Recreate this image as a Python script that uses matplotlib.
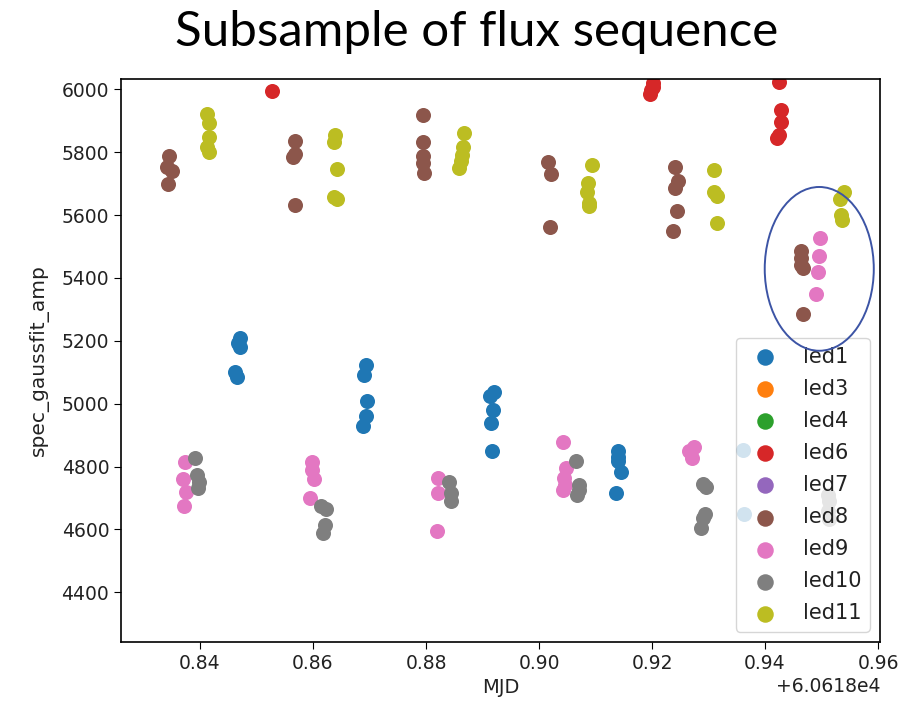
import matplotlib
matplotlib.use('Agg')
import matplotlib.pyplot as plt
from matplotlib.patches import Ellipse

MJD_BASE = 60618.0

# fractional MJD and fitted amplitude per LED
led1_t = [0.8471, 0.8468, 0.8471, 0.8462, 0.8466,
          0.8694, 0.8691, 0.8695, 0.8694, 0.8689,
          0.8920, 0.8913, 0.8919, 0.8915, 0.8916,
          0.9140, 0.9140, 0.9140, 0.9145, 0.9137,
          0.9361, 0.9363]
led1_amp = [5208, 5192, 5180, 5102, 5086,
            5123, 5091, 5010, 4961, 4929,
            5038, 5025, 4980, 4940, 4851,
            4851, 4832, 4819, 4784, 4716,
            4853, 4650]

led3_t, led3_amp = [], []
led4_t, led4_amp = [], []
led7_t, led7_amp = [], []

led6_t = [0.8527,
          0.9202, 0.9201, 0.9199, 0.9197,
          0.9424, 0.9428, 0.9428, 0.9424, 0.9422]
led6_amp = [5996,
            6020, 6008, 5997, 5985,
            6022, 5934, 5897, 5855, 5846]

led8_t = [0.8346, 0.8341, 0.8350, 0.8344,
          0.8568, 0.8568, 0.8565, 0.8568,
          0.8794, 0.8794, 0.8794, 0.8794, 0.8796,
          0.9016, 0.9021, 0.9019,
          0.9241, 0.9246, 0.9241, 0.9244, 0.9237,
          0.9464, 0.9464, 0.9464, 0.9467, 0.9467]
led8_amp = [5788, 5753, 5740, 5699,
            5837, 5794, 5784, 5631,
            5918, 5831, 5788, 5765, 5733,
            5770, 5731, 5563,
            5754, 5708, 5687, 5613, 5549,
            5486, 5465, 5441, 5431, 5285]

led9_t = [0.8373, 0.8370, 0.8376, 0.8372,
          0.8598, 0.8599, 0.8601, 0.8595,
          0.8822, 0.8822, 0.8819,
          0.9043, 0.9048, 0.9045, 0.9046, 0.9043,
          0.9274, 0.9265, 0.9270,
          0.9497, 0.9496, 0.9494, 0.9490]
led9_amp = [4816, 4760, 4718, 4675,
            4816, 4789, 4760, 4700,
            4763, 4717, 4596,
            4877, 4795, 4763, 4742, 4726,
            4863, 4851, 4827,
            5526, 5470, 5418, 5349]

led10_t = [0.8391, 0.8394, 0.8399, 0.8396,
           0.8615, 0.8623, 0.8621, 0.8617,
           0.8841, 0.8844, 0.8845,
           0.9065, 0.9071, 0.9070, 0.9068,
           0.9291, 0.9296, 0.9294, 0.9291, 0.9286,
           0.9512, 0.9514, 0.9511, 0.9513]
led10_amp = [4827, 4773, 4752, 4731,
             4676, 4664, 4614, 4588,
             4750, 4716, 4692,
             4819, 4742, 4726, 4710,
             4745, 4736, 4650, 4636, 4604,
             4710, 4690, 4660, 4632]

led11_t = [0.8413, 0.8416, 0.8416, 0.8413, 0.8416,
           0.8639, 0.8637, 0.8642, 0.8637, 0.8642,
           0.8868, 0.8865, 0.8864, 0.8862, 0.8858,
           0.9093, 0.9087, 0.9085, 0.9088, 0.9088,
           0.9310, 0.9309, 0.9315, 0.9315,
           0.9539, 0.9533, 0.9534, 0.9536]
led11_amp = [5921, 5894, 5849, 5817, 5802,
             5855, 5833, 5747, 5658, 5651,
             5860, 5817, 5791, 5772, 5751,
             5759, 5701, 5672, 5637, 5630,
             5743, 5672, 5662, 5574,
             5672, 5651, 5600, 5584]

leds = ['led1', 'led3', 'led4', 'led6', 'led7', 'led8', 'led9', 'led10', 'led11']
series = {
    'led1': (led1_t, led1_amp, 'tab:blue'),
    'led3': (led3_t, led3_amp, 'tab:orange'),
    'led4': (led4_t, led4_amp, 'tab:green'),
    'led6': (led6_t, led6_amp, 'tab:red'),
    'led7': (led7_t, led7_amp, 'tab:purple'),
    'led8': (led8_t, led8_amp, 'tab:brown'),
    'led9': (led9_t, led9_amp, 'tab:pink'),
    'led10': (led10_t, led10_amp, 'tab:gray'),
    'led11': (led11_t, led11_amp, 'tab:olive'),
}

# region highlighted by hand: centre (frac MJD, amp), width, height
ring_center = (0.9496, 5429)
ring_w, ring_h = 0.0193, 521

fs = 13.5
fig = plt.figure(figsize=(9.21, 7.07), dpi=100)
ax = fig.add_axes([121 / 921, 1 - 642 / 707, 759 / 921, 563 / 707])

for name in leds:
    t, amp, col = series[name]
    ax.scatter([MJD_BASE + v for v in t], amp, s=117, color=col,
               linewidths=0, label=name)

ax.set_xlim(MJD_BASE + 0.82602, MJD_BASE + 0.96035)
ax.set_ylim(4242, 6033)
ax.tick_params(labelsize=fs, length=5, labelcolor='#222222')
ax.xaxis.get_offset_text().set_fontsize(fs)
ax.xaxis.get_offset_text().set_color('#222222')
ax.set_xlabel('MJD', fontsize=14, color='#222222')
ax.set_ylabel('spec_gaussfit_amp', fontsize=14.5, color='#222222', labelpad=9)
for sp in ax.spines.values():
    sp.set_linewidth(1.2)

leg = ax.legend(loc='lower right', fontsize=15, scatterpoints=1,
                labelspacing=0.58, markerscale=1.1)
for txt in leg.get_texts():
    txt.set_color('#222222')

ring = Ellipse((MJD_BASE + ring_center[0], ring_center[1]), ring_w, ring_h,
               fill=False, edgecolor='#3c54a5', linewidth=1.4, zorder=6,
               clip_on=False)
ax.add_patch(ring)

fig.text(0.517, 0.955, 'Subsample of flux sequence', ha='center', va='center',
         fontsize=35.5, family='Lato')

fig.savefig('out.png', dpi=100)
